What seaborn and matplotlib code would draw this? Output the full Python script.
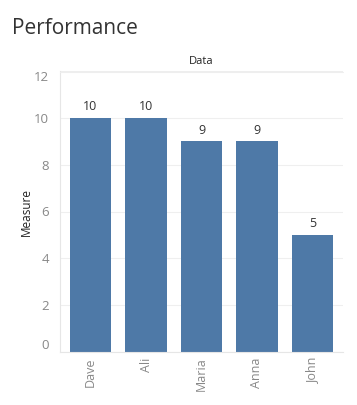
import matplotlib
matplotlib.use("Agg")
from matplotlib import pyplot as plt
import seaborn as sns
import pandas as pd

names = ["Dave", "Ali", "Maria", "Anna", "John"]
values = [10, 10, 9, 9, 5]
yticks = [0, 2, 4, 6, 8, 10, 12]

df = pd.DataFrame({"name": names, "value": values})

sns.set_style("white")
plt.rcParams["font.family"] = ["Open Sans", "DejaVu Sans"]

fig = plt.figure(figsize=(3.57, 4.05), dpi=100)
ax = fig.add_axes([60 / 357, 1 - 352 / 405, 283 / 357, 281 / 405])

sns.barplot(data=df, x="name", y="value", color="#4e79a7", saturation=1,
            width=0.75, linewidth=0, ax=ax)

for i, v in enumerate(values):
    ax.text(i, v + 0.2, str(v), ha="center", va="bottom", fontsize=9, color="#333333")

ax.set_ylim(0, 12)
ax.set_xlim(-0.55, 4.55)
ax.set_yticks(yticks)
ax.set_yticklabels([str(t) for t in yticks])
labs = ax.get_yticklabels()
labs[0].set_va("bottom")
labs[-1].set_va("top")
ax.tick_params(axis="y", length=0, labelsize=9.5, labelcolor="#888888", pad=8)
ax.tick_params(axis="x", length=0, labelsize=9, labelcolor="#888888", rotation=90, pad=4)
ax.grid(axis="y", color="#efefef", linewidth=0.8)
ax.set_axisbelow(True)

for s in ["top", "right"]:
    ax.spines[s].set_visible(False)
ax.spines["left"].set_color("#e6e6e6")
ax.spines["bottom"].set_color("#e6e6e6")
ax.set_xlabel("")
ax.set_ylabel("Measure", fontsize=8.5, color="#222222", labelpad=1)

fig.text(12 / 357, 1 - 28 / 405, "Performance", fontsize=15, color="#333333",
         va="center", ha="left")
fig.text((60 + 283 / 2) / 357, 1 - 62 / 405, "Data", fontsize=8, color="#222222",
         ha="center", va="center")
fig.add_artist(plt.Line2D([60 / 357, 343 / 357], [1 - 72 / 405, 1 - 72 / 405],
                          color="#eeeeee", linewidth=0.8))

fig.savefig("out.png", dpi=100)
